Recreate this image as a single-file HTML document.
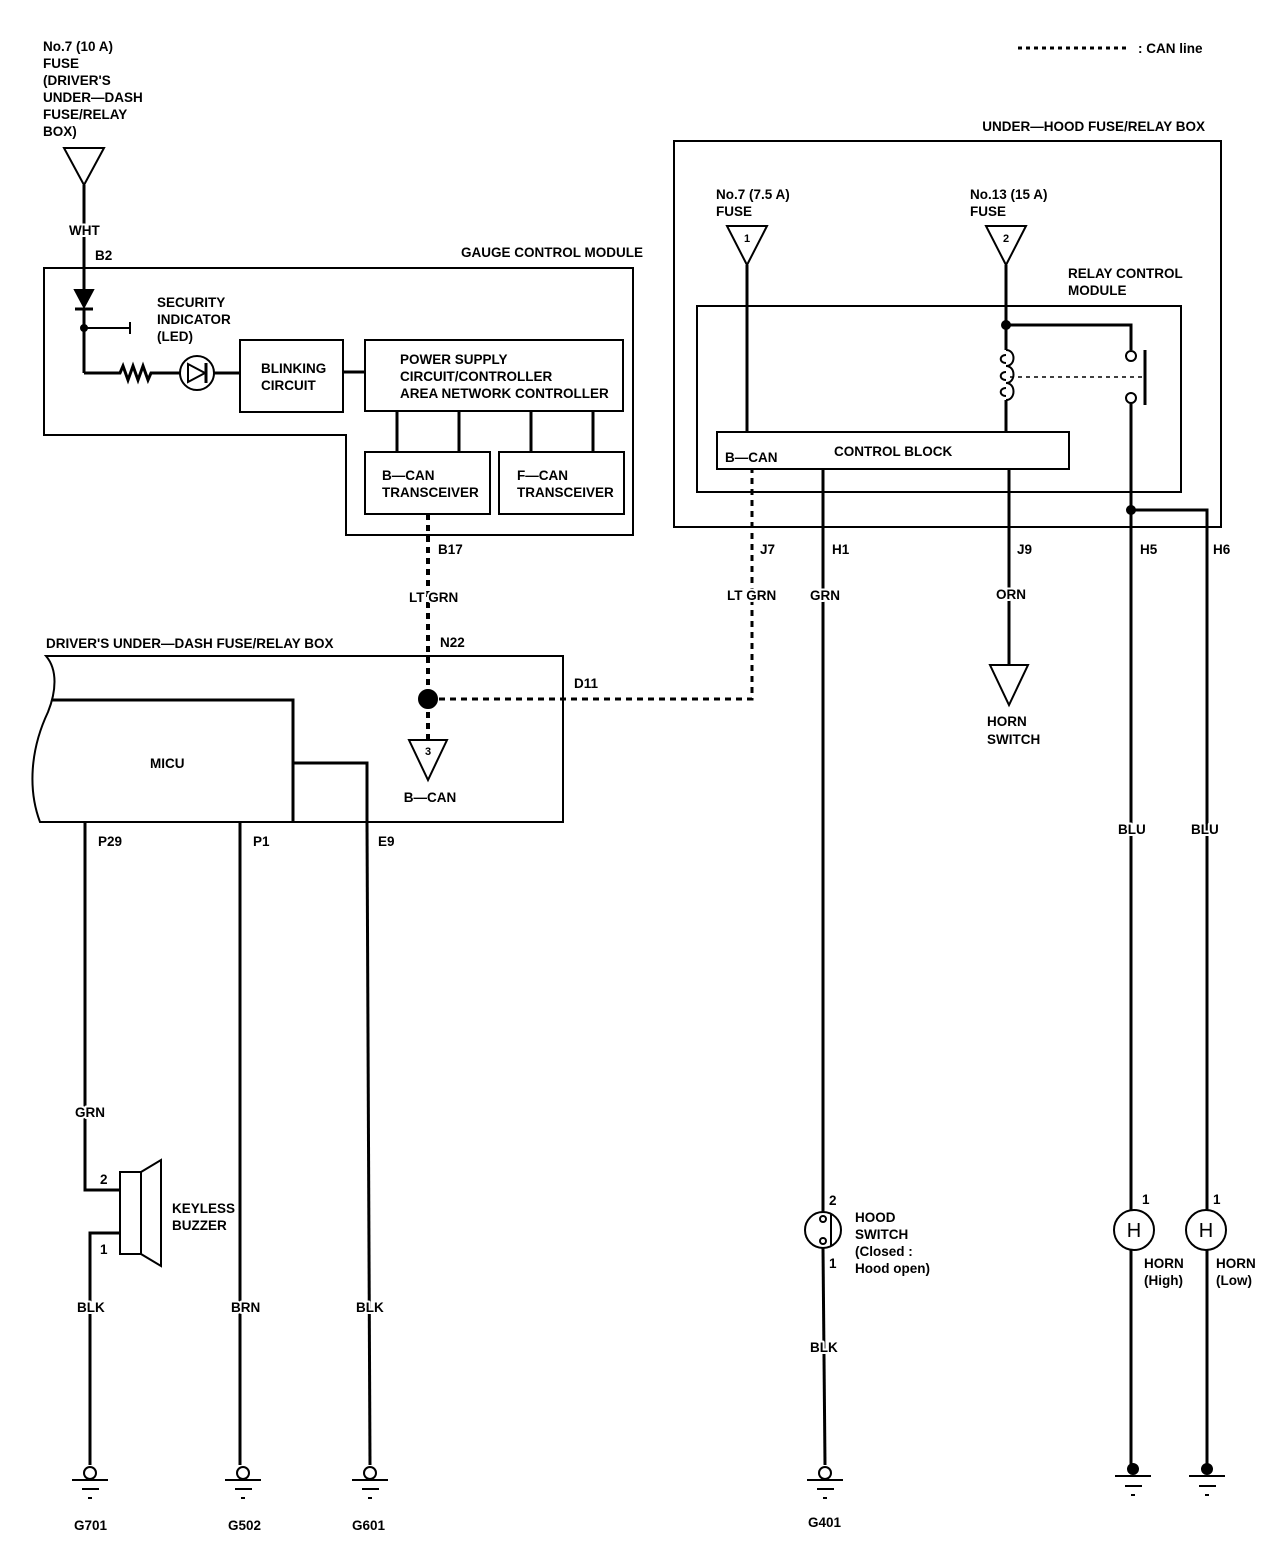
<!DOCTYPE html>
<html><head><meta charset="utf-8"><style>
html,body{margin:0;padding:0;background:#fff}
svg{display:block}
text{font-family:"Liberation Sans Narrow","Liberation Sans",sans-serif;font-weight:bold;font-size:13.5px;fill:#000;stroke:#fff;stroke-width:4px;paint-order:stroke;stroke-linejoin:round}
</style></head><body>
<svg width="1280" height="1552" viewBox="0 0 1280 1552" xmlns="http://www.w3.org/2000/svg">
<g fill="none" stroke="#000" stroke-width="2">
<line x1="1018" y1="48" x2="1128" y2="48" stroke-dasharray="4,4" stroke-width="3"/>
<polygon points="64,148 104,148 84,185"/>
<line x1="84" y1="185" x2="84" y2="290" stroke-width="3"/>
<polygon points="44,268 633,268 633,535 346,535 346,435 44,435"/>
<polygon points="75,290 93,290 84,307" fill="#000"/>
<line x1="75" y1="309" x2="93" y2="309" stroke-width="3"/>
<line x1="84" y1="309" x2="84" y2="373" stroke-width="3"/>
<circle cx="84" cy="328" r="3" fill="#000"/>
<path d="M84,328 H130 M130,322 V334"/>
<path d="M84,373 H120 l3,-7 l5,14 l5,-14 l5,14 l5,-14 l5,14 l3,-7 H180" stroke-width="3"/>
<circle cx="197" cy="373" r="17"/>
<polygon points="188,364 188,382 205,373"/>
<line x1="206" y1="363" x2="206" y2="383" stroke-width="3"/>
<line x1="214" y1="373" x2="240" y2="373" stroke-width="3"/>
<rect x="240" y="340" width="103" height="72"/>
<line x1="343" y1="372" x2="365" y2="372" stroke-width="3"/>
<rect x="365" y="340" width="258" height="71"/>
<path d="M397,411 V452 M459,411 V452 M531,411 V452 M593,411 V452" stroke-width="3"/>
<rect x="365" y="452" width="125" height="62"/>
<rect x="499" y="452" width="125" height="62"/>
<line x1="428" y1="514" x2="428" y2="770" stroke-dasharray="6,5" stroke-width="4"/>
<path d="M428,699 H752 V469" stroke-dasharray="6,5" stroke-width="3"/>
<path d="M46,656 H563 V822 H40 C28,790 30,750 48,712 C56,692 58,670 46,656 Z"/>
<path d="M52,700 H293 V822 M293,763 H367 V822" stroke-width="3"/>
<circle cx="428" cy="699" r="9" fill="#000"/>
<polygon points="409,740 447,740 428,780" fill="#fff"/>
<path d="M85,822 V1190 H120 M120,1233 H90 V1465" stroke-width="3"/>
<rect x="120" y="1172" width="21" height="82"/>
<polygon points="141,1172 161,1160 161,1266 141,1254"/>
<line x1="240" y1="822" x2="240" y2="1465" stroke-width="3"/>
<line x1="367" y1="822" x2="370" y2="1465" stroke-width="3"/>
<circle cx="90" cy="1473" r="6"/><path d="M72,1480 H108 M82,1489 H99 M88,1498 H92"/>
<circle cx="243" cy="1473" r="6"/><path d="M225,1480 H261 M235,1489 H252 M241,1498 H245"/>
<circle cx="370" cy="1473" r="6"/><path d="M352,1480 H388 M362,1489 H379 M368,1498 H372"/>
<circle cx="825" cy="1473" r="6"/><path d="M807,1480 H843 M817,1489 H834 M823,1498 H827"/>
<rect x="674" y="141" width="547" height="386"/>
<rect x="697" y="306" width="484" height="186"/>
<polygon points="727,226 767,226 747,265"/>
<polygon points="986,226 1026,226 1006,265"/>
<line x1="747" y1="265" x2="747" y2="432" stroke-width="3"/>
<path d="M1006,265 V350 M1006,400 V432" stroke-width="3"/>
<circle cx="1006" cy="325" r="4" fill="#000"/>
<path d="M1006,350 c10,0 10,16 0,16 c10,0 10,17 0,17 c10,0 10,17 0,17"/>
<path d="M1006,355 c-7,0 -7,8 0,8 M1006,372 c-7,0 -7,8 0,8 M1006,388 c-7,0 -7,8 0,8"/>
<path d="M1006,325 H1131 V350" stroke-width="3"/>
<circle cx="1131" cy="356" r="5"/><circle cx="1131" cy="398" r="5"/>
<line x1="1145" y1="350" x2="1145" y2="405" stroke-width="3"/>
<line x1="1010" y1="377" x2="1145" y2="377" stroke-dasharray="4,4" stroke-width="1.5"/>
<path d="M1131,403 V1465" stroke-width="3"/>
<path d="M1131,510 H1207 V1465" stroke-width="3"/>
<circle cx="1131" cy="510" r="4" fill="#000"/>
<rect x="717" y="432" width="352" height="37"/>
<line x1="823" y1="469" x2="823" y2="1212" stroke-width="3"/>
<line x1="823" y1="1248" x2="825" y2="1465" stroke-width="3"/>
<circle cx="823" cy="1230" r="18"/>
<circle cx="823" cy="1219" r="3"/><circle cx="823" cy="1241" r="3"/>
<line x1="831" y1="1214" x2="831" y2="1246" stroke-width="2"/>
<line x1="1009" y1="469" x2="1009" y2="665" stroke-width="3"/>
<polygon points="990,665 1028,665 1009,705"/>
<circle cx="1134" cy="1230" r="20" fill="#fff"/>
<circle cx="1206" cy="1230" r="20" fill="#fff"/>
<circle cx="1133" cy="1469" r="5" fill="#000"/><path d="M1115,1476 H1151 M1125,1486 H1142 M1131,1495 H1135"/>
<circle cx="1207" cy="1469" r="5" fill="#000"/><path d="M1189,1476 H1225 M1199,1486 H1216 M1205,1495 H1209"/>
</g>
<text x="1138" y="53">: CAN line</text>
<text x="43" y="51">No.7 (10 A)</text><text x="43" y="68">FUSE</text><text x="43" y="85">(DRIVER'S</text><text x="43" y="102">UNDER—DASH</text><text x="43" y="119">FUSE/RELAY</text><text x="43" y="136">BOX)</text>
<text x="69" y="235">WHT</text><text x="95" y="260">B2</text>
<text x="643" y="257" text-anchor="end">GAUGE CONTROL MODULE</text>
<text x="157" y="307">SECURITY</text><text x="157" y="324">INDICATOR</text><text x="157" y="341">(LED)</text>
<text x="261" y="373">BLINKING</text><text x="261" y="390">CIRCUIT</text>
<text x="400" y="364">POWER SUPPLY</text><text x="400" y="381">CIRCUIT/CONTROLLER</text><text x="400" y="398">AREA NETWORK CONTROLLER</text>
<text x="382" y="480">B—CAN</text><text x="382" y="497">TRANSCEIVER</text>
<text x="517" y="480">F—CAN</text><text x="517" y="497">TRANSCEIVER</text>
<text x="438" y="554">B17</text><text x="409" y="602">LT GRN</text><text x="440" y="647">N22</text>
<text x="46" y="648">DRIVER'S UNDER—DASH FUSE/RELAY BOX</text>
<text x="574" y="688">D11</text>
<text x="150" y="768">MICU</text>
<text x="428" y="755" text-anchor="middle" style="font-size:11px">3</text>
<text x="430" y="802" text-anchor="middle">B—CAN</text>
<text x="98" y="846">P29</text><text x="253" y="846">P1</text><text x="378" y="846">E9</text>
<text x="75" y="1117">GRN</text>
<text x="100" y="1184">2</text><text x="100" y="1254">1</text>
<text x="172" y="1213">KEYLESS</text><text x="172" y="1230">BUZZER</text>
<text x="77" y="1312">BLK</text><text x="231" y="1312">BRN</text><text x="356" y="1312">BLK</text>
<text x="74" y="1530">G701</text><text x="228" y="1530">G502</text><text x="352" y="1530">G601</text>
<text x="1205" y="131" text-anchor="end">UNDER—HOOD FUSE/RELAY BOX</text>
<text x="716" y="199">No.7 (7.5 A)</text><text x="716" y="216">FUSE</text>
<text x="970" y="199">No.13 (15 A)</text><text x="970" y="216">FUSE</text>
<text x="747" y="242" text-anchor="middle" style="font-size:11px">1</text>
<text x="1006" y="242" text-anchor="middle" style="font-size:11px">2</text>
<text x="1068" y="278">RELAY CONTROL</text><text x="1068" y="295">MODULE</text>
<text x="725" y="462">B—CAN</text><text x="834" y="456">CONTROL BLOCK</text>
<text x="760" y="554">J7</text><text x="832" y="554">H1</text><text x="1017" y="554">J9</text><text x="1140" y="554">H5</text><text x="1213" y="554">H6</text>
<text x="727" y="600">LT GRN</text><text x="810" y="600">GRN</text><text x="996" y="599">ORN</text>
<text x="987" y="726">HORN</text><text x="987" y="744">SWITCH</text>
<text x="1118" y="834">BLU</text><text x="1191" y="834">BLU</text>
<text x="829" y="1205">2</text><text x="829" y="1268">1</text>
<text x="855" y="1222">HOOD</text><text x="855" y="1239">SWITCH</text><text x="855" y="1256">(Closed :</text><text x="855" y="1273">Hood open)</text>
<text x="810" y="1352">BLK</text><text x="808" y="1527">G401</text>
<text x="1142" y="1204">1</text><text x="1213" y="1204">1</text>
<text x="1134" y="1237" text-anchor="middle" style="font-size:20px;font-weight:normal">H</text>
<text x="1206" y="1237" text-anchor="middle" style="font-size:20px;font-weight:normal">H</text>
<text x="1144" y="1268">HORN</text><text x="1144" y="1285">(High)</text>
<text x="1216" y="1268">HORN</text><text x="1216" y="1285">(Low)</text>
</svg>
</body></html>
